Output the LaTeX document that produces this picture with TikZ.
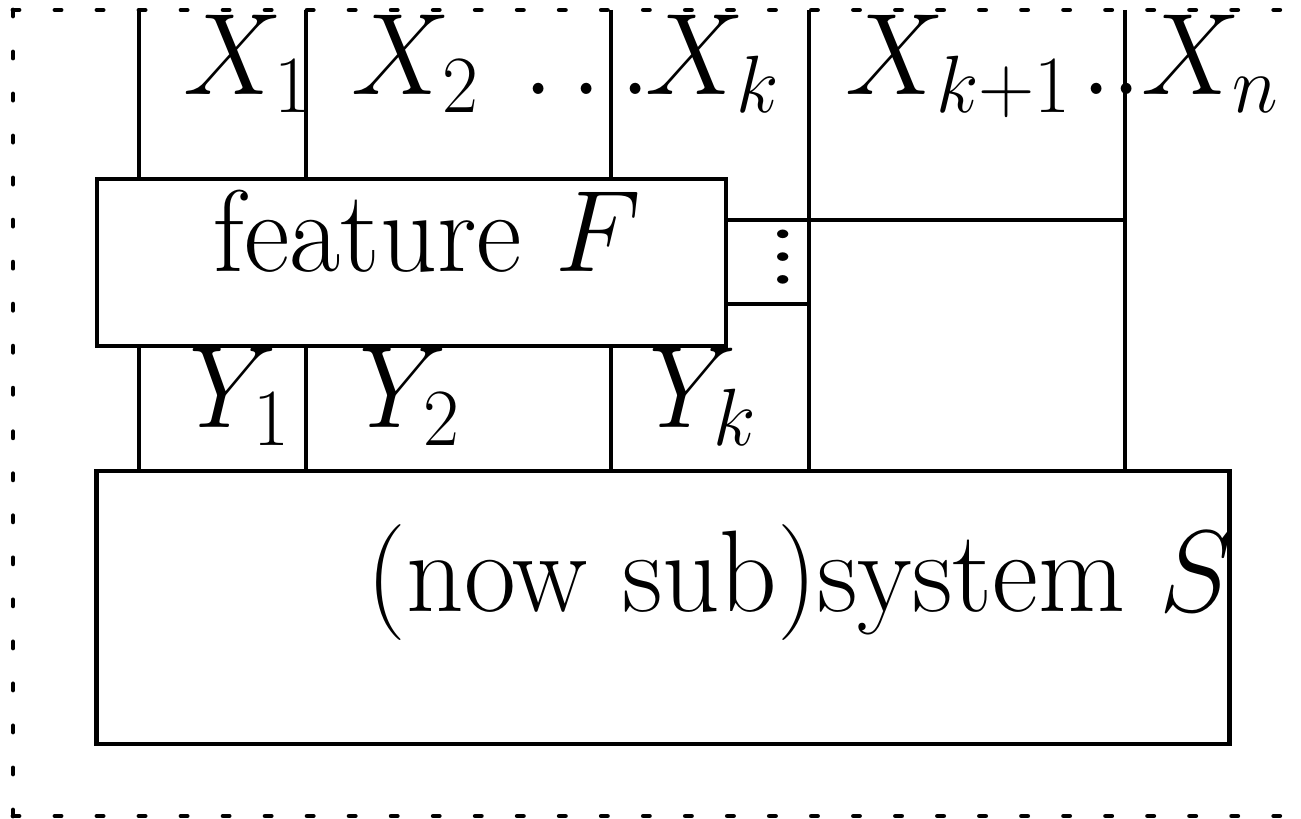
\RequirePackage{fix-cm}
\documentclass[tikz,border=0pt]{standalone}
\usepackage{fontspec}
\usepackage{graphicx}
\newfontfamily\lmmath{Latin Modern Math}
\newcommand\hsq[1]{\scalebox{0.96}[1]{#1}}
\begin{document}
\begin{tikzpicture}[x=0.01cm,y=-0.01cm,
  lbl/.style={inner sep=0pt,anchor=base west,font=\fontsize{33}{40}\selectfont},
  wire/.style={line width=1.0pt},
  boxed/.style={draw,line width=1.3pt,fill=white,inner sep=0pt},
  frame/.style={line width=1.4pt,line cap=round,dash pattern=on 0.06cm off 0.36cm}]
\useasboundingbox (0,0) rectangle (1301,819);
\clip (0,0) rectangle (1301,819);
% frame
\coordinate (c1) at (13,10);
\coordinate (c2) at (13,816);
\coordinate (c3) at (1340,10);
\coordinate (c4) at (1340,816);
\coordinate (cm) at (13,413);
\draw[frame] (c1) -- (c3);
\draw[frame] (c2) -- (c4);
\draw[frame] (c1) -- (cm);
\draw[frame] (c2) -- (cm);
% boxes
\node[boxed,minimum width=6.29cm,minimum height=1.67cm] (F) at (411.5,262.5) {};
\node[boxed,minimum width=11.32cm,minimum height=2.73cm] (S) at (663,607.5) {};
% wire tops
\coordinate (t1) at (139,10);
\coordinate (t2) at (306,10);
\coordinate (t3) at (611,10);
\coordinate (t4) at (809,10);
\coordinate (t5) at (1125,10);
\coordinate (h1) at (1125,220);
\coordinate (h2) at (809,304);
\foreach \t in {t1,t2,t3}{
  \draw[wire] (\t) -- (\t |- F.north);
  \draw[wire] (\t |- F.south) -- (\t |- S.north);
}
\draw[wire] (t4) -- (t4 |- S.north);
\draw[wire] (t5) -- (t5 |- S.north);
\draw[wire] (h1 -| F.east) -- (h1);
\draw[wire] (h2 -| F.east) -- (h2);
% labels
\node[lbl] (x1) at (183,95) {\hsq{$X_1$}};
\node[lbl] (x2) at (351,95) {\hsq{$X_2\:\ldots$}};
\node[lbl] (xk) at (645,95) {\hsq{$X_k$}};
\node[lbl] (x3) at (845,95) {\hsq{$X_{k+1}\mkern1.5mu..X_n$}};
\node[lbl] (y1) at (189,428) {\hsq{$Y_1$}};
\node[lbl] (y2) at (359,428) {\hsq{$Y_2$}};
\node[lbl] (yk) at (649,428) {\hsq{$Y_k$}};
\node[lbl] (ft) at (213,272) {\hsq{feature $F$}};
\node[lbl] (st) at (366,611) {\scalebox{0.97}[1]{(now sub)system $S$}};
\node[inner sep=0pt,font=\fontsize{29}{34}\lmmath] (vd) at (783,257) {\scalebox{1.05}[0.8]{⋮}};
\end{tikzpicture}
\end{document}
